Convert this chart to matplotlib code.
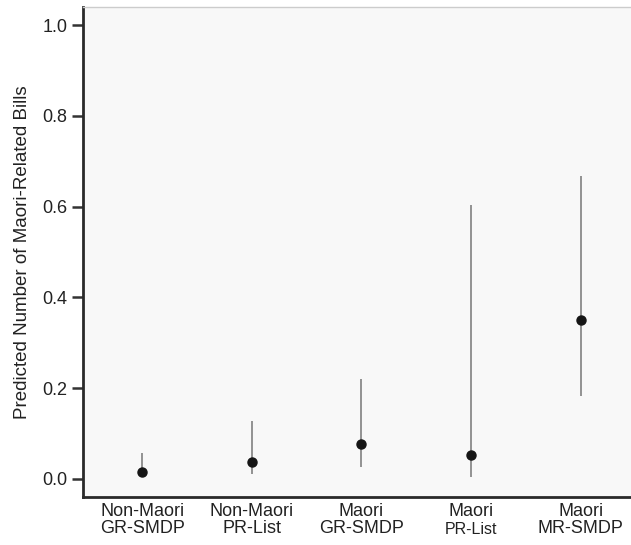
import matplotlib.pyplot as plt
import matplotlib.transforms as mtransforms
import numpy as np

groups = ['Non-Maori\nGR-SMDP', 'Non-Maori\nPR-List', 'Maori\nGR-SMDP', 'Maori\nPR-List', 'Maori\nMR-SMDP']
estimate = [0.016, 0.037, 0.078, 0.053, 0.351]
lower = [0.005, 0.010, 0.027, 0.004, 0.183]
upper = [0.057, 0.128, 0.220, 0.603, 0.667]

plt.rcParams['font.family'] = ['Liberation Sans', 'DejaVu Sans']

fig = plt.figure(figsize=(6.31, 5.45), dpi=100)
ax = fig.add_axes([0.1315, 0.088, 0.8685, 0.899])
ax.set_facecolor('#f8f8f8')

x = np.arange(len(groups))
ax.vlines(x, lower, upper, color='#8a8a8a', linewidth=1.3, zorder=2)
ax.plot(x, estimate, 'o', color='#151515', markersize=6.5, zorder=3)

ax.set_xlim(-0.54, 4.46)
ax.set_ylim(-0.04, 1.04)
ax.set_yticks([0.0, 0.2, 0.4, 0.6, 0.8, 1.0])
ax.set_yticklabels(['0.0', '0.2', '0.4', '0.6', '0.8', '1.0'])
ax.set_xticks(x)
# the second line of the 4th label is set smaller in the original
labels = list(groups)
labels[3] = groups[3].split('\n')[0]
ax.set_xticklabels(labels, fontsize=13, linespacing=1.0)

trans = mtransforms.blended_transform_factory(ax.transData, fig.transFigure)
ax.text(3, 0.029, groups[3].split('\n')[1], transform=trans, ha='center', va='center',
        fontsize=11.5, color='#222222')

ax.tick_params(axis='y', direction='out', length=8, width=1.8, color='#333333',
               labelsize=13, labelcolor='#222222', pad=3)
ax.tick_params(axis='x', length=0, pad=4, labelcolor='#222222')

ax.set_ylabel('Predicted Number of Maori-Related Bills', fontsize=13.5, color='#222222', labelpad=8)

for side in ['left', 'bottom']:
    ax.spines[side].set_color('#2a2a2a')
    ax.spines[side].set_linewidth(2)
ax.spines['top'].set_color('#cccccc')
ax.spines['top'].set_linewidth(1)
ax.spines['right'].set_visible(False)

fig.savefig('out.png', dpi=100)
